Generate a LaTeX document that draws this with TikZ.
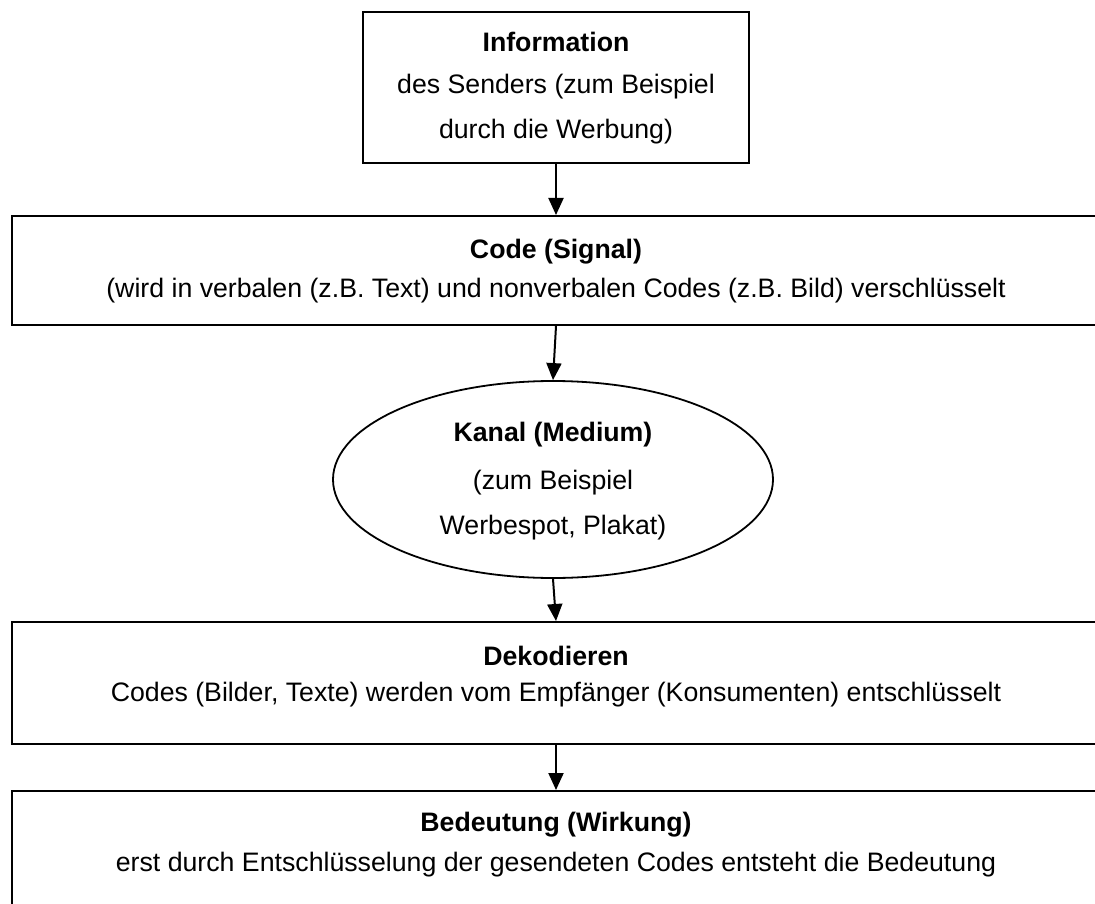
\documentclass[tikz,border=0pt]{standalone}
\usepackage{fontspec}
\setmainfont{Liberation Sans}
\usetikzlibrary{shapes.geometric,arrows.meta}
\begin{document}
\begin{tikzpicture}[x=1pt,y=-1pt,
  boxshape/.style={draw=black,line width=2pt,rectangle,inner sep=0pt},
  ellshape/.style={draw=black,line width=1.8pt,ellipse,inner sep=0pt},
  txt/.style={font=\fontsize{26.7}{30}\selectfont,inner sep=0pt,anchor=center},
  btxt/.style={txt,font=\fontsize{26.7}{30}\selectfont\bfseries},
  conn/.style={line width=2pt,-{Triangle[length=17pt,width=15pt]},shorten >=0pt}
]
\useasboundingbox[fill=white] (0,0) rectangle (1095,904);
% boxes
\node[boxshape,minimum width=386pt,minimum height=151pt] (b1) at (556,87.5) {};
\node[boxshape,minimum width=1088pt,minimum height=109pt] (b2) at (556,270.5) {};
\node[ellshape,minimum width=440pt,minimum height=197pt] (e) at (553,479.5) {};
\node[boxshape,minimum width=1088pt,minimum height=122pt] (b3) at (556,683) {};
\node[boxshape,minimum width=1088pt,minimum height=130pt] (b4) at (556,856) {};
% texts
\node[btxt] (t1a) at (556,42) {Information};
\node[txt] (t1b) at (556,87) {des Senders (zum Beispiel};
\node[txt] (t1c) at (556,132) {durch die Werbung)};
\node[btxt] (t2a) at (556,252) {Code (Signal)};
\node[txt] (t2b) at (556,291) {(wird in verbalen (z.B. Text) und nonverbalen Codes (z.B. Bild) verschlüsselt};
\node[btxt] (t3a) at (553,435) {Kanal (Medium)};
\node[txt] (t3b) at (553,483) {(zum Beispiel};
\node[txt] (t3c) at (553,528) {Werbespot, Plakat)};
\node[btxt] (t4a) at (556,656) {Dekodieren};
\node[txt] (t4b) at (556,695) {Codes (Bilder, Texte) werden vom Empfänger (Konsumenten) entschlüsselt};
\node[btxt] (t5a) at (556,825) {Bedeutung (Wirkung)};
\node[txt] (t5b) at (556,865) {erst durch Entschlüsselung der gesendeten Codes entsteht die Bedeutung};
% connectors
\draw[conn] (b1.south) -- (b2.north);
\draw[conn] (b2.south) -- (e.north);
\draw[conn] (e.south) -- (b3.north);
\draw[conn] (b3.south) -- (b4.north);
\end{tikzpicture}
\end{document}
